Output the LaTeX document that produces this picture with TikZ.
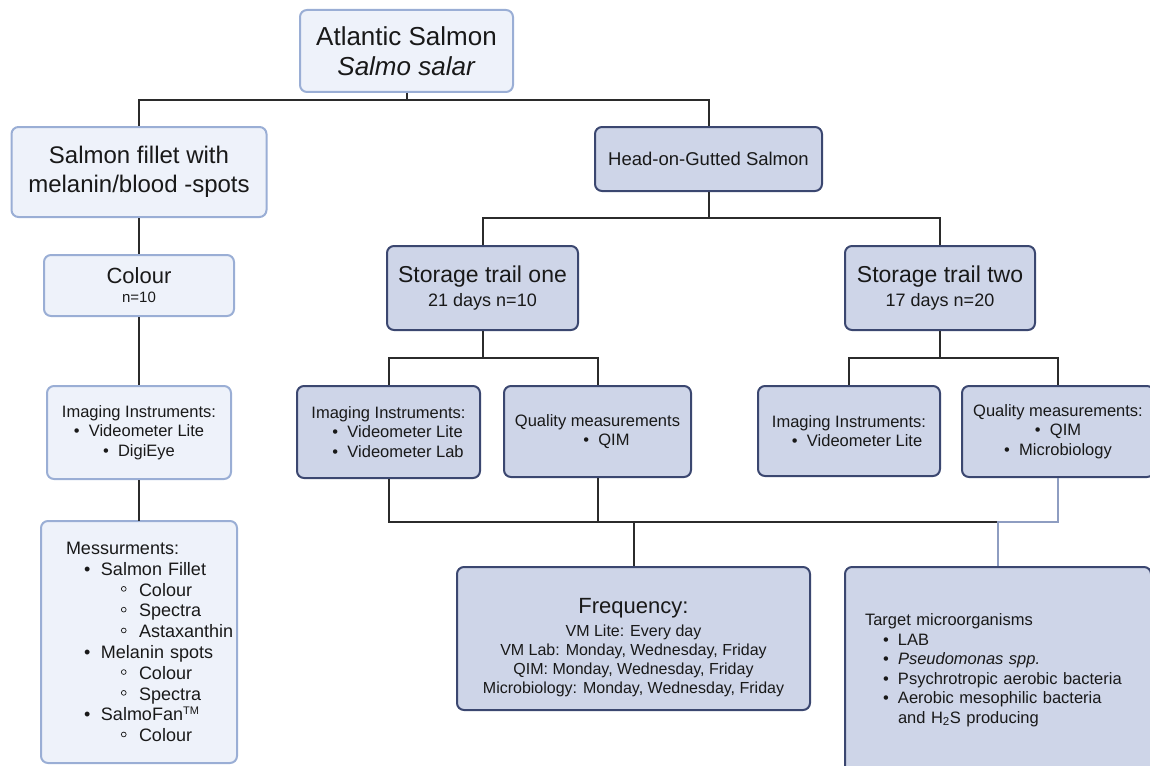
\documentclass[tikz,border=0pt]{standalone}
\usepackage{fontspec}
\setmainfont{Liberation Sans}
\usetikzlibrary{positioning}
\definecolor{clite}{HTML}{EEF2FA}
\definecolor{clitedraw}{HTML}{9AAED5}
\definecolor{cdark}{HTML}{CED5E8}
\definecolor{cdarkdraw}{HTML}{3B4770}
\definecolor{cline}{HTML}{2B2B2B}
\definecolor{cgreyline}{HTML}{8E9DC1}
\newcommand{\fsz}[2]{\fontsize{#1}{#2}\selectfont}
\newcommand{\bul}[1][15pt]{\makebox[#1][l]{\textbullet}}
\newcommand{\sbul}{\makebox[18pt][l]{\raisebox{4.5pt}{\tikz\draw[line width=0.7pt] (0,0) circle (2.4pt);}}}
\tikzset{
  every picture/.style={line width=2pt},
  box/.style={draw=#1draw, fill=#1, rounded corners=7pt, inner sep=0pt, align=center, text=black!90},
  box/.default=clite,
  sz/.style 2 args={minimum width=#1pt, minimum height=#2pt},
  link/.style={draw=cline, line width=2pt},
  glink/.style={draw=cgreyline, line width=2pt},
  small/.style={font=\fsz{16.5}{19.5}},
}

\begin{document}
\begin{tikzpicture}[x=1pt, y=-1pt]
  \useasboundingbox (0,0) rectangle (1150,765);
  \clip (0,0) rectangle (1150,765);
  % top levels
  \node[box, sz={213}{82}, font=\fsz{26}{30}] (salmon) at (406.5,51) {Atlantic Salmon\\\textit{Salmo salar}};
  \node[box, sz={255}{90}, font=\fsz{24}{29}] (fillet) at (139,172) {Salmon fillet with\\melanin/blood -spots};
  \node[box=cdark, sz={227}{64}, font=\fsz{18.5}{22}] (hog) at (708.5,159) {Head-on-Gutted Salmon};
  % fillet branch
  \node[box, sz={190}{61}, font=\fsz{15}{18}] (colour) at (139,285.5) {{\fsz{22}{26}Colour}\\[1pt]n=10};
  \node[box, sz={184}{93}, small] (imgL) at (139,432.5) {Imaging Instruments:\\\bul Videometer Lite\\\bul DigiEye};
  \node[box, sz={196}{242}, font=\fsz{18}{20.8}, align=left, text width=146pt] (meas) at (139,642) {Messurments:\\
    \hspace*{18pt}\bul[17pt]Salmon~Fillet\\
    \hspace*{55pt}\sbul Colour\\
    \hspace*{55pt}\sbul Spectra\\
    \hspace*{55pt}\sbul Astaxanthin\\
    \hspace*{18pt}\bul[17pt]Melanin~spots\\
    \hspace*{55pt}\sbul Colour\\
    \hspace*{55pt}\sbul Spectra\\
    \hspace*{18pt}\bul[17pt]SalmoFan\textsuperscript{\fsz{11}{12}TM}\\
    \hspace*{55pt}\sbul Colour};
  % storage trails
  \node[box=cdark, sz={191}{84}, font=\fsz{18}{22}] (trail1) at (482.5,288) {{\fsz{23}{27}Storage trail one}\\[2pt]21 days n=10};
  \node[box=cdark, sz={190}{84}, font=\fsz{18}{22}] (trail2) at (940,288) {{\fsz{23}{27}Storage trail two}\\[2pt]17 days n=20};
  \node[box=cdark, sz={183}{92}, small, align=left] (imgA) at (388.5,432) {Imaging Instruments:\\
    \hspace*{21pt}\bul Videometer Lite\\\hspace*{21pt}\bul Videometer Lab};
  \node[box=cdark, sz={187}{91}, small] (qualA) at (597.5,431.5) {Quality measurements\\\hspace*{18pt}\bul QIM};
  \node[box=cdark, sz={182}{90}, small, align=left] (imgB) at (849,431) {Imaging Instruments:\\
    \hspace*{20pt}\bul Videometer Lite};
  \node[box=cdark, sz={192}{91}, small] (qualB) at (1058,431.5) {Quality measurements:\\\bul QIM\\\bul Microbiology};
  % results
  \node[box=cdark, sz={353}{143}, font=\fsz{16}{19}] (freq) at (633.5,638.5) {{\fsz{22}{26}\rule{0pt}{34pt}Frequency:}\\[4pt]
    VM Lite: Every day\\VM Lab: Monday, Wednesday, Friday\\QIM: Monday, Wednesday, Friday\\Microbiology: Monday, Wednesday, Friday};
  \node[box=cdark, sz={306}{206}, small, align=left, text width=266pt] (target) at (998,670) {Target microorganisms\\
    \hspace*{18pt}\bul LAB\\
    \hspace*{18pt}\bul\textit{Pseudomonas spp.}\\
    \hspace*{18pt}\bul Psychrotropic aerobic bacteria\\
    \hspace*{18pt}\bul Aerobic mesophilic bacteria\\
    \hspace*{33pt}and H\textsubscript{2}S producing};
  % connectors
  \coordinate (j0) at (406.5,100);
  \coordinate (j1) at (708.5,218);
  \coordinate (j2) at (482.5,358);
  \coordinate (j3) at (940,358);
  \coordinate (b3) at (633.5,522);
  \coordinate (b4) at (998,522);
  \draw[link] (salmon) -- (j0);
  \draw[link] (fillet.north) |- (j0) -| (hog.north);
  \draw[link] (fillet) -- (colour);
  \draw[link] (colour) -- (imgL);
  \draw[link] (imgL) -- (meas);
  \draw[link] (hog) -- (j1);
  \draw[link] (trail1.north) |- (j1) -| (trail2.north);
  \draw[link] (trail1) -- (j2);
  \draw[link] (imgA.north) |- (j2) -| (qualA.north);
  \draw[link] (trail2) -- (j3);
  \draw[link] (imgB.north) |- (j3) -| (qualB.north);
  \draw[link] (imgA.south) |- (b3);
  \draw[link] (qualA.south) |- (b3);
  \draw[link] (b3) -- (freq.north);
  \draw[link] (b3) -- (b4);
  \draw[glink] (qualB.south) |- (b4) -- (target.north);
\end{tikzpicture}
\end{document}
